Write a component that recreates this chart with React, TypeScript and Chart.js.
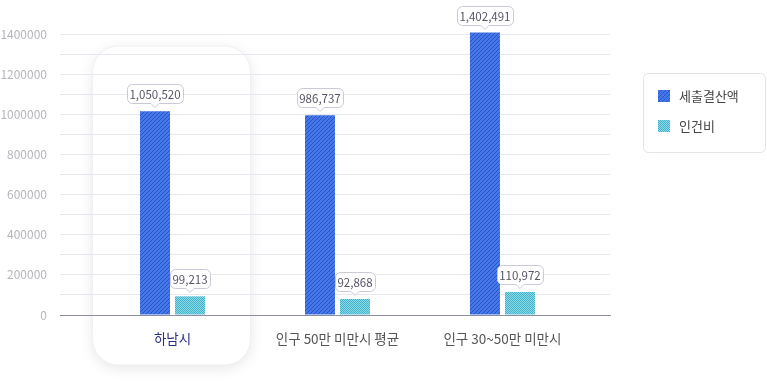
import React, { useEffect, useRef } from "react";
import { Chart, registerables } from "chart.js";

Chart.register(...registerables);

// ---- data ----
const categories = ["하남시", "인구 50만 미만시 평균", "인구 30~50만 미만시"];
const seriesNames = ["세출결산액", "인건비"];
// bar heights
const salesValues = [1015000, 995000, 1407000];
const laborValues = [93000, 80000, 115000];
// value callouts as printed in the picture
const salesLabels = ["1,050,520", "986,737", "1,402,491"];
const laborLabels = ["99,213", "92,868", "110,972"];
const yTickValues = [0, 100000, 200000, 300000, 400000, 500000, 600000, 700000, 800000, 900000, 1000000, 1100000, 1200000, 1300000, 1400000];
const yLabelledTicks = [0, 200000, 400000, 600000, 800000, 1000000, 1200000, 1400000];

const FONT = '"Noto Sans CJK KR", "Noto Sans", sans-serif';
const X_MIN = -0.682;
const X_MAX = 2.652;

function makeStripePattern(): CanvasPattern | string {
  const c = document.createElement("canvas");
  c.width = 4;
  c.height = 4;
  const g = c.getContext("2d");
  if (!g) return "#3f6fe2";
  g.fillStyle = "#4478ea";
  g.fillRect(0, 0, 4, 4);
  g.strokeStyle = "#2a52c0";
  g.lineWidth = 1;
  g.beginPath();
  g.moveTo(0, 4);
  g.lineTo(4, 0);
  g.moveTo(-1, 1);
  g.lineTo(1, -1);
  g.moveTo(3, 5);
  g.lineTo(5, 3);
  g.stroke();
  const p = g.createPattern(c, "repeat");
  return p || "#3f6fe2";
}

function makeCheckPattern(): CanvasPattern | string {
  const c = document.createElement("canvas");
  c.width = 2;
  c.height = 2;
  const g = c.getContext("2d");
  if (!g) return "#6fd2e2";
  g.fillStyle = "#86dcea";
  g.fillRect(0, 0, 2, 2);
  g.fillStyle = "#45b0c6";
  g.fillRect(0, 0, 1, 1);
  g.fillRect(1, 1, 1, 1);
  const p = g.createPattern(c, "repeat");
  return p || "#6fd2e2";
}

function roundRectPath(ctx: CanvasRenderingContext2D, x: number, y: number, w: number, h: number, r: number) {
  ctx.beginPath();
  ctx.moveTo(x + r, y);
  ctx.lineTo(x + w - r, y);
  ctx.arcTo(x + w, y, x + w, y + r, r);
  ctx.lineTo(x + w, y + h - r);
  ctx.arcTo(x + w, y + h, x + w - r, y + h, r);
  ctx.lineTo(x + r, y + h);
  ctx.arcTo(x, y + h, x, y + h - r, r);
  ctx.lineTo(x, y + r);
  ctx.arcTo(x, y, x + r, y, r);
  ctx.closePath();
}

export default function App() {
  const ref = useRef<HTMLCanvasElement | null>(null);

  useEffect(() => {
    const canvas = ref.current;
    if (!canvas) return;
    const stripe = makeStripePattern();
    const check = makeCheckPattern();

    const highlightPlugin = {
      id: "highlight",
      beforeDraw(chart: any) {
        const { ctx, chartArea, scales } = chart;
        const cx = scales.x.getPixelForValue(0);
        const w = 158;
        const x = cx - w / 2 - 1;
        const y = chartArea.top + 12;
        const h = chartArea.bottom + 50 - y;
        ctx.save();
        ctx.shadowColor = "rgba(0,0,0,0.10)";
        ctx.shadowBlur = 14;
        ctx.shadowOffsetY = 3;
        roundRectPath(ctx, x, y, w, h, 26);
        ctx.fillStyle = "#ffffff";
        ctx.fill();
        ctx.shadowColor = "transparent";
        ctx.strokeStyle = "#f0f0f3";
        ctx.lineWidth = 1;
        ctx.stroke();
        ctx.restore();
      },
    };

    const calloutPlugin = {
      id: "callouts",
      afterDatasetsDraw(chart: any) {
        const { ctx } = chart;
        const texts = [salesLabels, laborLabels];
        ctx.save();
        ctx.font = `11.5px ${FONT}`;
        chart.data.datasets.forEach((_: any, di: number) => {
          const meta = chart.getDatasetMeta(di);
          meta.data.forEach((el: any, i: number) => {
            const t = texts[di][i];
            const tw = ctx.measureText(t).width;
            const bw = Math.round(tw + 5);
            const bh = 19;
            const tip = el.y - 4;
            const by = tip - 4 - bh;
            const bx = Math.round(el.x - bw / 2) + 0.5;
            const byy = Math.round(by) + 0.5;
            ctx.beginPath();
            const r = 5;
            const x = bx, y = byy, w = bw, h = bh;
            ctx.moveTo(x + r, y);
            ctx.lineTo(x + w - r, y);
            ctx.arcTo(x + w, y, x + w, y + r, r);
            ctx.lineTo(x + w, y + h - r);
            ctx.arcTo(x + w, y + h, x + w - r, y + h, r);
            ctx.lineTo(el.x + 4, y + h);
            ctx.lineTo(el.x, y + h + 4);
            ctx.lineTo(el.x - 4, y + h);
            ctx.lineTo(x + r, y + h);
            ctx.arcTo(x, y + h, x, y + h - r, r);
            ctx.lineTo(x, y + r);
            ctx.arcTo(x, y, x + r, y, r);
            ctx.closePath();
            ctx.fillStyle = "#ffffff";
            ctx.fill();
            ctx.strokeStyle = "#c9c9d9";
            ctx.lineWidth = 1;
            ctx.stroke();
            ctx.fillStyle = "#555566";
            ctx.textAlign = "center";
            ctx.textBaseline = "middle";
            ctx.fillText(t, el.x, byy + bh / 2 + 0.5);
          });
        });
        ctx.restore();
      },
    };

    const legendPlugin = {
      id: "boxLegend",
      afterDraw(chart: any) {
        const { ctx } = chart;
        ctx.save();
        roundRectPath(ctx, 643.5, 73.5, 122, 79, 5);
        ctx.fillStyle = "#ffffff";
        ctx.fill();
        ctx.strokeStyle = "#e3e3e8";
        ctx.lineWidth = 1;
        ctx.stroke();
        const fills = [stripe, check];
        seriesNames.forEach((name, i) => {
          const y = 90 + i * 30;
          ctx.fillStyle = fills[i] as any;
          ctx.fillRect(658, y, 12, 12);
          ctx.fillStyle = "#444444";
          ctx.font = `13px ${FONT}`;
          ctx.textAlign = "left";
          ctx.textBaseline = "middle";
          ctx.fillText(name, 679, y + 6.5);
        });
        ctx.restore();
      },
    };

    const chart = new Chart(canvas, {
      type: "bar",
      data: {
        datasets: [
          {
            label: seriesNames[0],
            data: salesValues.map((v, i) => ({ x: i, y: v })),
            backgroundColor: stripe as any,
            borderWidth: 0,
            clip: false as any,
          },
          {
            label: seriesNames[1],
            data: laborValues.map((v, i) => ({ x: i, y: v })),
            backgroundColor: check as any,
            borderWidth: 0,
            clip: false as any,
          },
        ],
      },
      options: {
        responsive: false,
        animation: false,
        events: [],
        categoryPercentage: 70 / 165,
        barPercentage: 30 / 35,
        layout: { padding: { left: 0, right: 157, top: 34, bottom: 0 } },
        plugins: {
          legend: { display: false },
          tooltip: { enabled: false },
        },
        scales: {
          x: {
            type: "linear",
            min: X_MIN,
            max: X_MAX,
            offset: false,
            bounds: "data",
            grid: { display: false, drawTicks: false, offset: false },
            border: { display: true, color: "#8d8da3", width: 1 },
            afterBuildTicks: (scale: any) => {
              scale.ticks = categories.map((_, i) => ({ value: i }));
              scale.min = X_MIN;
              scale.max = X_MAX;
            },
            afterFit: (scale: any) => {
              scale.height = 69;
            },
            ticks: {
              padding: 16,
              autoSkip: false,
              maxRotation: 0,
              font: { family: FONT, size: 13.5 },
              color: (c: any) => (c.index === 0 ? "#2b2f80" : "#555555"),
              callback: (v: any) => categories[Math.round(Number(v))] ?? "",
            },
          },
          y: {
            type: "linear",
            min: 0,
            max: 1400000,
            grid: { color: "#e7e7ef", drawTicks: false, lineWidth: 1 },
            border: { display: false },
            afterBuildTicks: (scale: any) => {
              scale.ticks = yTickValues.map((v) => ({ value: v }));
            },
            afterFit: (scale: any) => {
              scale.width = 60;
            },
            ticks: {
              padding: 13,
              font: { family: FONT, size: 12 },
              color: "#b5b5bb",
              callback: (v: any) => (yLabelledTicks.includes(Number(v)) ? String(v) : ""),
            },
          },
        },
      } as any,
      plugins: [highlightPlugin, calloutPlugin, legendPlugin],
    });

    return () => {
      chart.destroy();
    };
  }, []);

  return (
    <div style={{ position: "fixed", left: 0, top: 0, width: 767, height: 384, background: "#ffffff" }}>
      <canvas ref={ref} width={767} height={384} style={{ display: "block", width: 767, height: 384 }} />
    </div>
  );
}
